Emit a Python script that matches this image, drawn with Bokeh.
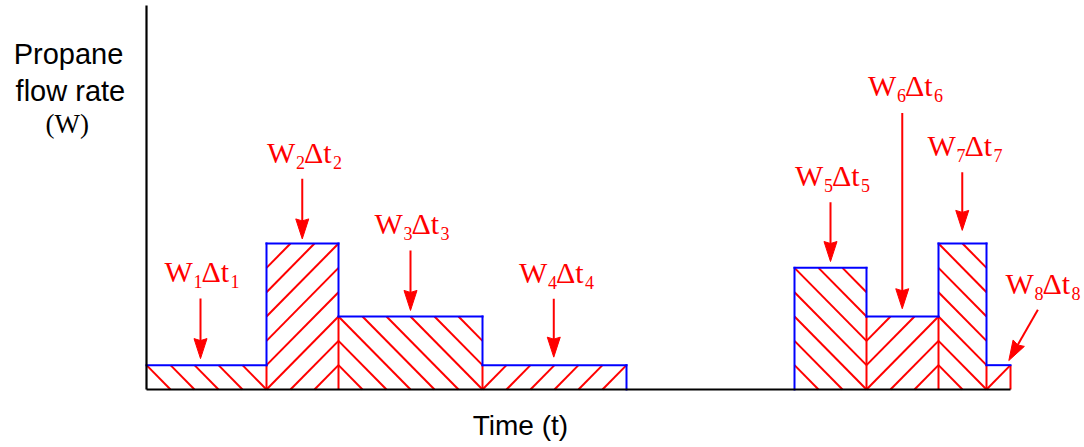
import numpy as np
from bokeh.plotting import figure
from bokeh.models import Range1d, FixedTicker, LinearAxis, ColumnDataSource
from bokeh.core.properties import value
from bokeh.embed import file_html
from bokeh.resources import INLINE

# ---------------- data ----------------
t_start = [0, 5, 8, 14, 27, 30, 33, 35]
t_end = [5, 8, 14, 20, 30, 33, 35, 36]
flow = [1, 6, 3, 1, 5, 3, 6, 1]
hatch_dir = ["\\", "/", "\\", "/", "\\", "/", "\\", "/"]
sub_idx = ["1", "2", "3", "4", "5", "6", "7", "8"]

label_x = [2.27, 6.54, 11.02, 17.04, 28.54, 31.58, 34.06, 37.31]
label_y = [4.44, 9.34, 6.40, 4.41, 8.38, 12.08, 9.62, 3.93]
arrow_x0 = [2.25, 6.49, 11.0, 16.97, 28.5, 31.49, 33.99, 37.14]
arrow_y0 = [3.74, 8.66, 5.71, 3.73, 7.70, 11.36, 8.93, 3.28]
arrow_x1 = [2.25, 6.49, 11.0, 16.97, 28.5, 31.49, 33.99, 35.93]
arrow_y1 = [1.27, 6.19, 3.25, 1.33, 5.26, 3.32, 6.54, 1.19]

y_title = ["Propane", "flow rate"]
y_title_x = [-3.25, -3.17]
y_title_y = [13.39, 11.88]
y_unit = ["(W)"]
y_unit_x = [-3.30]
y_unit_y = [10.52]
x_title = ["Time (t)"]
x_title_x = [15.58]
x_title_y = [-1.89]

# ---------------- layout ----------------
W, H = 1084, 447
ORIGIN_X, ORIGIN_Y = 146, 389      # page pixel of data (0, 0)
PX_X, PX_Y = 24.0, 24.33           # pixels per data unit
X0, X1 = -ORIGIN_X / PX_X, (W - ORIGIN_X) / PX_X
Y0, Y1 = -(H - ORIGIN_Y) / PX_Y, ORIGIN_Y / PX_Y
Y_AXIS_TOP = (ORIGIN_Y - 5) / PX_Y
MID = 0.34                          # baseline -> text middle, in em


def lift(ys, fs):
    """shift baseline positions to the text middle (font size fs in px)"""
    return [v + MID * fs / PX_Y for v in ys]


RED = "#ff0000"
BLUE = "#0000ff"

p = figure(width=W, height=H, x_range=Range1d(X0, X1), y_range=Range1d(Y0, Y1),
           output_backend="svg", toolbar_location=None,
           x_axis_location=None, y_axis_location=None,
           min_border=0, min_border_left=0, min_border_right=0,
           min_border_top=0, min_border_bottom=0)
p.grid.visible = False
p.outline_line_color = None
p.background_fill_color = "white"
p.border_fill_color = "white"

xa = LinearAxis(fixed_location=0, bounds=(0, max(t_end)))
ya = LinearAxis(fixed_location=0, bounds=(0, Y_AXIS_TOP))
for ax in (xa, ya):
    ax.ticker = FixedTicker(ticks=[])
    ax.minor_tick_line_color = None
    ax.major_tick_line_color = None
    ax.major_label_text_font_size = "0px"
    ax.axis_line_width = 2.2
    ax.axis_line_color = "black"
p.add_layout(xa, "below")
p.add_layout(ya, "left")

# ---------------- hatch lines ----------------
hx0, hy0, hx1, hy1 = [], [], [], []
for a, b, h, d in zip(t_start, t_end, flow, hatch_dir):
    if d == "\\":
        for k in range(int(np.floor(a)), int(np.ceil(b + h)) + 1):
            xa_, xb_ = max(a, k - h), min(b, k)
            if xb_ - xa_ > 1e-9:
                hx0.append(xa_); hy0.append(k - xa_); hx1.append(xb_); hy1.append(k - xb_)
    else:
        for k in range(int(np.floor(a - h)), int(np.ceil(b)) + 1):
            xa_, xb_ = max(a, k), min(b, k + h)
            if xb_ - xa_ > 1e-9:
                hx0.append(xa_); hy0.append(xa_ - k); hx1.append(xb_); hy1.append(xb_ - k)
p.segment(hx0, hy0, hx1, hy1, line_color=RED, line_width=2)

# ---------------- outlines ----------------
rx0, ry0, rx1, ry1 = [], [], [], []
bx0, by0, bx1, by1 = [], [], [], []
n = len(flow)
for i in range(n):
    a, b, h = t_start[i], t_end[i], flow[i]
    bx0.append(a); by0.append(h); bx1.append(b); by1.append(h)
    if i > 0:
        if t_end[i - 1] == a:
            lo, hi = min(flow[i - 1], h), max(flow[i - 1], h)
            rx0.append(a); ry0.append(0); rx1.append(a); ry1.append(lo)
            if hi > lo:
                bx0.append(a); by0.append(lo); bx1.append(a); by1.append(hi)
        else:
            bx0.append(a); by0.append(0); bx1.append(a); by1.append(h)
    if i == n - 1:
        rx0.append(b); ry0.append(0); rx1.append(b); ry1.append(h)
    elif t_start[i + 1] != b:
        bx0.append(b); by0.append(0); bx1.append(b); by1.append(h)
p.segment(rx0, ry0, rx1, ry1, line_color=RED, line_width=2)
p.segment(bx0, by0, bx1, by1, line_color=BLUE, line_width=2, line_cap="square")

# ---------------- arrows ----------------
HL, HW, NOTCH = 20.0, 6.5, 2.0
sx0, sy0, sx1, sy1, head_xs, head_ys = [], [], [], [], [], []
for x0, y0, x1, y1 in zip(arrow_x0, arrow_y0, arrow_x1, arrow_y1):
    dx, dy = (x1 - x0) * PX_X, (y1 - y0) * PX_Y
    L = np.hypot(dx, dy)
    ux, uy = dx / L, dy / L
    nx, ny = -uy, ux
    tx, ty = x1 * PX_X, y1 * PX_Y
    bx, by = tx - HL * ux, ty - HL * uy
    pts = [(tx, ty), (bx + HW * nx, by + HW * ny), (bx + NOTCH * ux, by + NOTCH * uy),
           (bx - HW * nx, by - HW * ny)]
    head_xs.append([q[0] / PX_X for q in pts])
    head_ys.append([q[1] / PX_Y for q in pts])
    sx0.append(x0); sy0.append(y0)
    sx1.append((bx + 3 * ux) / PX_X); sy1.append((by + 3 * uy) / PX_Y)
p.segment(sx0, sy0, sx1, sy1, line_color=RED, line_width=2)
p.patches(head_xs, head_ys, fill_color=RED, line_color=RED, line_width=1)

# ---------------- W_i Δt_i labels ----------------
FS_MAIN, FS_SUB = 30, 18
main_src = ColumnDataSource(dict(
    x=[v for v in label_x for _ in range(2)],
    y=[v for v in lift(label_y, FS_MAIN) for _ in range(2)],
    text=[s for _ in label_x for s in ("W", "\u0394t")],
    xo=[o for _ in label_x for o in (-36.5, 0.5)],
))
sub_base = [v - 6.0 / PX_Y for v in label_y]
sub_src = ColumnDataSource(dict(
    x=[v for v in label_x for _ in range(2)],
    y=[v for v in lift(sub_base, FS_SUB) for _ in range(2)],
    text=[s for s in sub_idx for _ in range(2)],
    xo=[o for _ in label_x for o in (-7.5, 29.5)],
))
p.text(x="x", y="y", text="text", x_offset="xo", source=main_src,
       text_align="left", text_baseline="alphabetic",
       text_font=value("Liberation Serif"), text_font_size=f"{FS_MAIN}px", text_color=RED)
p.text(x="x", y="y", text="text", x_offset="xo", source=sub_src,
       text_align="left", text_baseline="alphabetic",
       text_font=value("Liberation Serif"), text_font_size=f"{FS_SUB}px", text_color=RED)

# ---------------- axis titles ----------------
p.text(x=y_title_x, y=lift(y_title_y, 29), text=y_title, text_align="center",
       text_baseline="alphabetic", text_font=value("Liberation Sans"),
       text_font_size="29px", text_color="black")
p.text(x=y_unit_x, y=lift(y_unit_y, 27), text=y_unit, text_align="center",
       text_baseline="alphabetic", text_font=value("Liberation Serif"),
       text_font_size="27px", text_color="black")
p.text(x=x_title_x, y=lift(x_title_y, 28), text=x_title, text_align="center",
       text_baseline="alphabetic", text_font=value("Liberation Sans"),
       text_font_size="28px", text_color="black")

open("out.html", "w").write(file_html(p, INLINE))
